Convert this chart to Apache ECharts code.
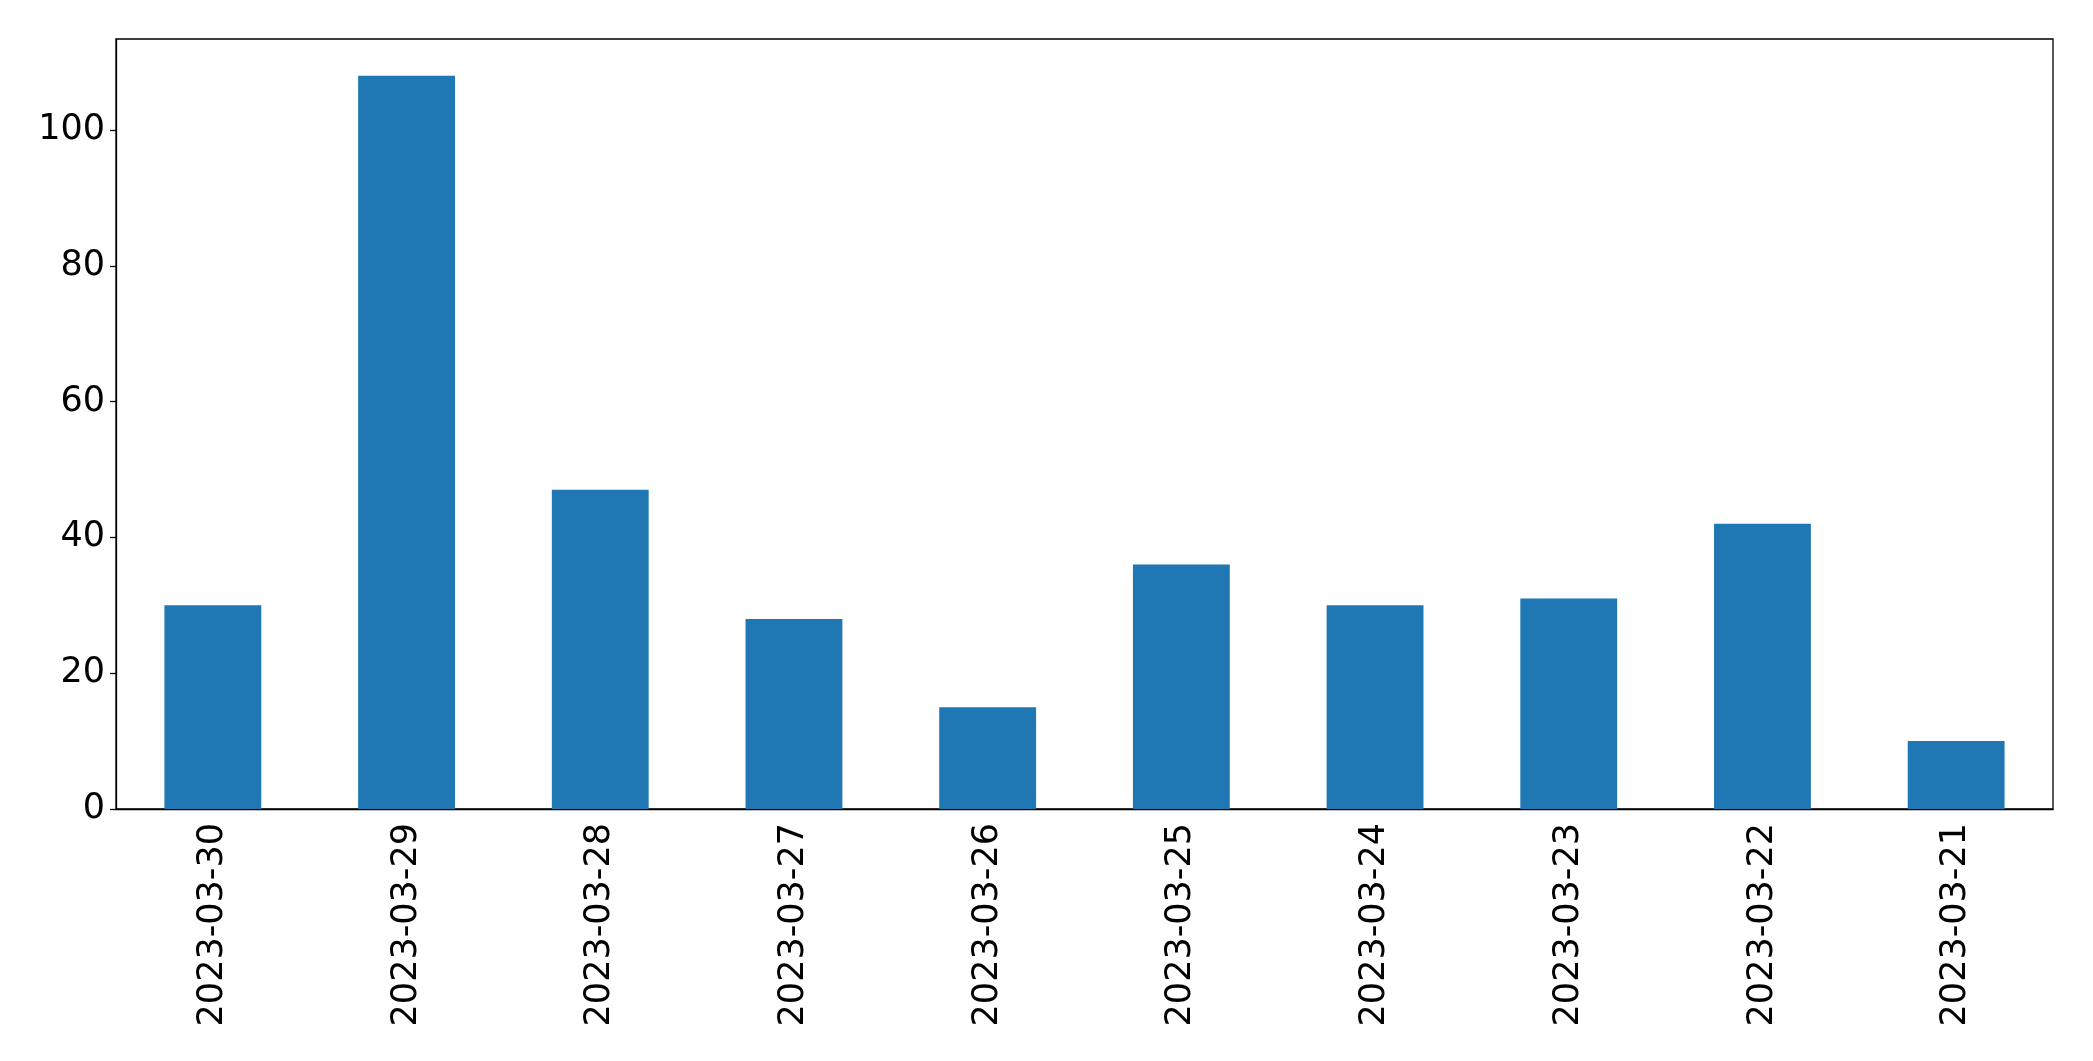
<!DOCTYPE html>
<html>
<head>
<meta charset="utf-8">
<script src="https://cdn.jsdelivr.net/npm/echarts@6/dist/echarts.min.js"></script>
<style>
html,body{margin:0;padding:0;background:#fff;}
#chart{width:2093px;height:1061px;}
</style>
</head>
<body>
<div id="chart"></div>
<script>
// 日期和数量
var dates = ['2023-03-30', '2023-03-29', '2023-03-28', '2023-03-27', '2023-03-26',
             '2023-03-25', '2023-03-24', '2023-03-23', '2023-03-22', '2023-03-21'];
var counts = [30, 108, 47, 28, 15, 36, 30, 31, 42, 10];
var yTicks = [0, 20, 40, 60, 80, 100];

var dom = document.getElementById('chart');
var myChart = echarts.init(dom);

var option = {
    animation: false,
    backgroundColor: '#fff',
    textStyle: { fontFamily: 'DejaVu Sans' },
    grid: {
        left: 116, right: 40, top: 39, bottom: 252,
        show: true, borderColor: '#000', borderWidth: 1.3
    },
    xAxis: {
        type: 'category',
        data: dates,
        axisLine: { lineStyle: { color: '#000', width: 1.3 } },
        axisTick: { alignWithLabel: true, length: 6, lineStyle: { color: '#000', width: 1.3 } },
        axisLabel: {
            rotate: 90, color: '#000', fontSize: 35, margin: 14,
            fontFamily: 'DejaVu Sans', interval: 0
        }
    },
    yAxis: {
        type: 'value',
        min: 0,
        max: 113.4,
        splitLine: { show: false },
        axisLine: { show: true, lineStyle: { color: '#000', width: 1.3 } },
        axisTick: { show: true, length: 6, customValues: yTicks, lineStyle: { color: '#000', width: 1.3 } },
        axisLabel: {
            color: '#000', fontSize: 35, margin: 11,
            fontFamily: 'DejaVu Sans', customValues: yTicks
        }
    },
    series: [{
        type: 'bar',
        data: counts,
        barWidth: '50%',
        itemStyle: { color: '#1f77b4' }
    }]
};

myChart.setOption(option);
</script>
</body>
</html>
